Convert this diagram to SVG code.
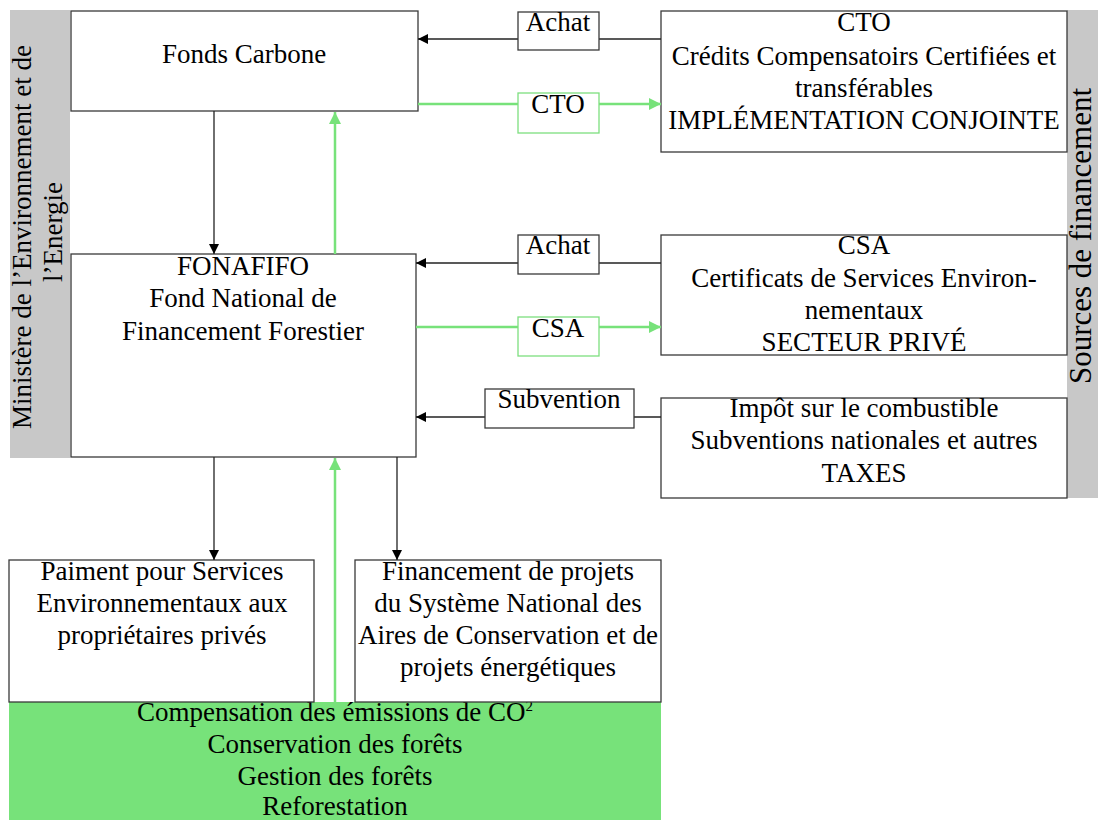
<svg xmlns="http://www.w3.org/2000/svg" width="1098" height="820" viewBox="0 0 1098 820">
<defs>
<style>
text{font-family:"Liberation Serif","Times New Roman",serif;font-size:27px;fill:#000;text-anchor:middle}
.box{fill:#fff;stroke:#3a3a3a;stroke-width:1.3}
.gbox{fill:#fff;stroke:#7ddf7f;stroke-width:1.3}
.bar{fill:#c8c8c8}
.blk{stroke:#222;stroke-width:1.3;fill:none}
.grn{stroke:#77e27a;stroke-width:2.5;fill:none}
</style>
<marker id="ab" viewBox="0 0 10 10" refX="10" refY="5" markerWidth="10" markerHeight="10" markerUnits="userSpaceOnUse" orient="auto"><path d="M0,0L10,5L0,10Z" fill="#000"/></marker>
<marker id="ag" viewBox="0 0 10 10" refX="10" refY="5" markerWidth="12" markerHeight="12" markerUnits="userSpaceOnUse" orient="auto"><path d="M0,0L10,5L0,10Z" fill="#77e27a"/></marker>
</defs>
<rect width="1098" height="820" fill="#fff"/>

<g id="ministere">
<rect class="bar" x="10" y="10" width="60" height="448"/>
<text transform="translate(31,237) rotate(-90)">Ministère de l’Environnement et de</text>
<text transform="translate(62,232) rotate(-90)">l’Energie</text>
</g>
<g id="sources">
<rect class="bar" x="1067" y="10" width="31" height="488"/>
<text transform="translate(1091,236) rotate(-90)" style="font-size:31px">Sources de financement</text>
</g>

<g id="green-area">
<rect x="9" y="702" width="652" height="118" fill="#77e27a"/>
<text x="335" y="721">Compensation des émissions de CO<tspan font-size="15" dy="-10">2</tspan></text>
<text x="335" y="753">Conservation des forêts</text>
<text x="335" y="785">Gestion des forêts</text>
<text x="335" y="815">Reforestation</text>
</g>

<g id="fonds-carbone">
<rect class="box" x="71" y="11" width="347" height="100"/>
<text x="244" y="63">Fonds Carbone</text>
</g>
<g id="fonafifo">
<rect class="box" x="71" y="254" width="345" height="203"/>
<text x="243" y="275">FONAFIFO</text>
<text x="243" y="307">Fond National de</text>
<text x="243" y="340">Financement Forestier</text>
</g>
<g id="cto">
<rect class="box" x="661" y="11" width="406" height="141"/>
<text x="864" y="31">CTO</text>
<text x="864" y="65">Crédits Compensatoirs Certifiées et</text>
<text x="864" y="97">transférables</text>
<text x="864" y="129">IMPLÉMENTATION CONJOINTE</text>
</g>
<g id="csa">
<rect class="box" x="661" y="235" width="406" height="120"/>
<text x="864" y="254">CSA</text>
<text x="864" y="287">Certificats de Services Environ-</text>
<text x="864" y="319">nementaux</text>
<text x="864" y="351">SECTEUR PRIVÉ</text>
</g>
<g id="taxes">
<rect class="box" x="661" y="398" width="406" height="100"/>
<text x="864" y="417">Impôt sur le combustible</text>
<text x="864" y="449">Subventions nationales et autres</text>
<text x="864" y="482">TAXES</text>
</g>
<g id="paiement">
<rect class="box" x="9" y="560" width="305" height="142"/>
<text x="162" y="580">Paiment pour Services</text>
<text x="162" y="612">Environnementaux aux</text>
<text x="162" y="644">propriétaires privés</text>
</g>
<g id="financement">
<rect class="box" x="355" y="560" width="306" height="142"/>
<text x="508" y="580">Financement de projets</text>
<text x="508" y="612">du Système National des</text>
<text x="508" y="644">Aires de Conservation et de</text>
<text x="508" y="676">projets énergétiques</text>
</g>

<g id="connectors">
<line class="blk" x1="214" y1="111" x2="214" y2="254" marker-end="url(#ab)"/>
<line class="grn" x1="335" y1="254" x2="335" y2="112" marker-end="url(#ag)"/>
<line class="blk" x1="214" y1="457" x2="214" y2="560" marker-end="url(#ab)"/>
<line class="blk" x1="397" y1="457" x2="397" y2="560" marker-end="url(#ab)"/>
<line class="grn" x1="335" y1="702" x2="335" y2="458" marker-end="url(#ag)"/>
<line class="blk" x1="661" y1="39" x2="418" y2="39" marker-end="url(#ab)"/>
<line class="grn" x1="418" y1="104" x2="661" y2="104" marker-end="url(#ag)"/>
<line class="blk" x1="661" y1="263" x2="416" y2="263" marker-end="url(#ab)"/>
<line class="grn" x1="416" y1="327" x2="661" y2="327" marker-end="url(#ag)"/>
<line class="blk" x1="661" y1="417" x2="416" y2="417" marker-end="url(#ab)"/>
</g>

<g id="label-achat1">
<rect class="box" x="518" y="12" width="81" height="38"/>
<text x="558" y="31">Achat</text>
</g>
<g id="label-cto">
<rect class="gbox" x="518" y="93" width="81" height="40"/>
<text x="558" y="113">CTO</text>
</g>
<g id="label-achat2">
<rect class="box" x="518" y="235" width="81" height="39"/>
<text x="558" y="254">Achat</text>
</g>
<g id="label-csa">
<rect class="gbox" x="518" y="317" width="81" height="39"/>
<text x="558" y="337">CSA</text>
</g>
<g id="label-subvention">
<rect class="box" x="485" y="389" width="149" height="39"/>
<text x="559" y="408">Subvention</text>
</g>
</svg>
